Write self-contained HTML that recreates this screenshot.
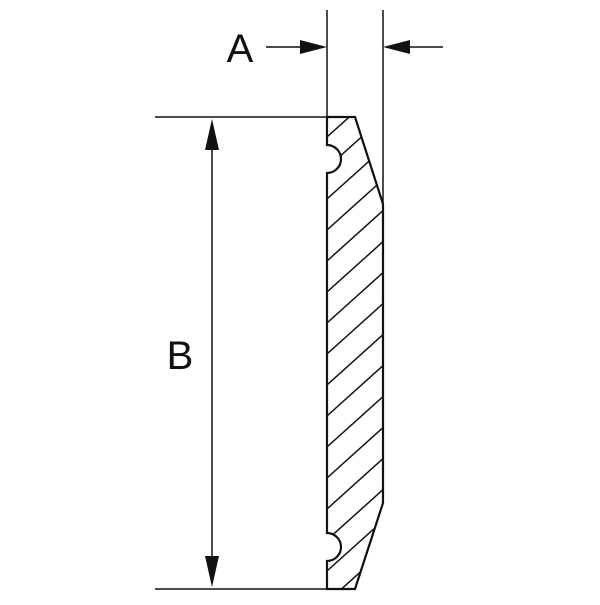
<!DOCTYPE html>
<html><head><style>body{margin:0;background:#fff}</style></head><body>
<svg width="600" height="600" viewBox="0 0 600 600" xmlns="http://www.w3.org/2000/svg">
<defs>
<clipPath id="c"><path d="M327,117 L355,117 L383,204 L383,503 L355,589 L327,589 L327,561 A14,14 0 0 0 327,533 L327,173 A14,14 0 0 0 327,145 Z"/></clipPath>
</defs>
<g stroke="#111" fill="none">
<line x1="327" y1="10" x2="327" y2="117" stroke-width="1.5"/>
<line x1="383" y1="10" x2="383" y2="204" stroke-width="1.5"/>
<line x1="155" y1="117" x2="355" y2="117" stroke-width="1.5"/>
<line x1="155" y1="589" x2="355" y2="589" stroke-width="1.5"/>
<line x1="212" y1="140" x2="212" y2="566" stroke-width="1.5"/>
<line x1="266" y1="47" x2="305" y2="47" stroke-width="1.5"/>
<line x1="405" y1="47" x2="443" y2="47" stroke-width="1.5"/>
<g clip-path="url(#c)" stroke-width="1.5">
<path d="M327,137 l80,-72 M327,168 l80,-72 M327,199 l80,-72 M327,230 l80,-72 M327,261 l80,-72 M327,292 l80,-72 M327,323 l80,-72 M327,354 l80,-72 M327,385 l80,-72 M327,416 l80,-72 M327,447 l80,-72 M327,478 l80,-72 M327,509 l80,-72 M327,540 l80,-72 M327,571 l80,-72 M327,602 l80,-72 M327,633 l80,-72"/>
</g>
<path d="M327,117 L355,117 L383,204 L383,503 L355,589 L327,589 L327,561 A14,14 0 0 0 327,533 L327,173 A14,14 0 0 0 327,145 Z" stroke-width="2.2"/>
</g>
<g fill="#111">
<polygon points="327,47 300,40 300,54"/>
<polygon points="383,47 410,40 410,54"/>
<polygon points="212,119 205,150 219,150"/>
<polygon points="212,587 205,556 219,556"/>
</g>
<text x="240" y="62" font-family="Liberation Sans, sans-serif" font-size="40" text-anchor="middle" fill="#111">A</text>
<text x="180" y="369" font-family="Liberation Sans, sans-serif" font-size="40" text-anchor="middle" fill="#111">B</text>
</svg>
</body></html>
